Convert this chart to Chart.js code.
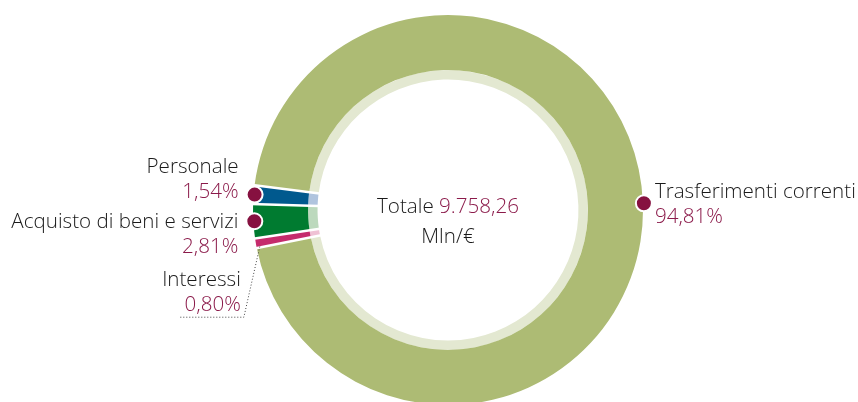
<!DOCTYPE html>
<html>
<head>
<meta charset="utf-8">
<script src="https://cdn.jsdelivr.net/npm/chart.js@4.4.1/dist/chart.umd.min.js"></script>
<style>
    html, body { margin: 0; padding: 0; background: #fff; overflow: hidden; }
    #wrap { position: relative; width: 858px; height: 420px; }
</style>
</head>
<body>
<div id="wrap"><canvas id="spese_chart"></canvas></div>
<script>
// dati (ordine in senso orario partendo da Trasferimenti)
var labels = ['Trasferimenti correnti', 'Interessi', 'Acquisto di beni e servizi', 'Personale'];
var valori = [94.81, 0.80, 2.81, 1.54];
var percentuali = ['94,81%', '0,80%', '2,81%', '1,54%'];
var totale = '9.758,26';
var unita = 'Mln/€';

var coloriPieni = ['#adbb74', '#c52b6c', '#007b30', '#00598e'];
var coloriChiari = ['#e3e8d1', '#efc1d4', '#bcd9bd', '#b0c4de'];

var FONT = '300 20.6px "Open Sans", "Noto Sans", sans-serif';
var SCURO = '#1a1a1a';
var BORDEAUX = '#8b1a4a';

// posizione delle etichette rispetto al punto medio dell'arco
var posEtichette = [
    { lato: 'dx', dy1: -5, dy2: 20, punto: true },
    { lato: 'sx', dy1: 43, dy2: 68, punto: false },
    { lato: 'sx', dy1: 7, dy2: 32, punto: true },
    { lato: 'sx', dy1: -22, dy2: 3, punto: true }
];

const etichettePlugin = {
    id: 'etichette',
    afterDatasetsDraw: function(chart) {
        const ctx = chart.ctx;
        const meta = chart.getDatasetMeta(0);
        const metaInt = chart.getDatasetMeta(1);
        ctx.save();

        // separatori bianchi tra le fette
        meta.data.forEach(function(arc, i) {
            const p = arc.getProps(['x', 'y', 'startAngle', 'outerRadius']);
            const rIn = metaInt.data[i].innerRadius;
            ctx.beginPath();
            ctx.moveTo(p.x + Math.cos(p.startAngle) * (rIn - 1), p.y + Math.sin(p.startAngle) * (rIn - 1));
            ctx.lineTo(p.x + Math.cos(p.startAngle) * (p.outerRadius + 2), p.y + Math.sin(p.startAngle) * (p.outerRadius + 2));
            ctx.lineWidth = 2.5;
            ctx.strokeStyle = '#ffffff';
            ctx.stroke();
        });

        ctx.font = FONT;
        meta.data.forEach(function(arc, i) {
            const p = arc.getProps(['x', 'y', 'startAngle', 'endAngle', 'outerRadius']);
            const mid = (p.startAngle + p.endAngle) / 2;
            const px = p.x + Math.cos(mid) * p.outerRadius;
            const py = p.y + Math.sin(mid) * p.outerRadius;
            const pos = posEtichette[i];
            let tx;
            if (pos.lato === 'dx') {
                tx = px + 12;
                ctx.textAlign = 'left';
            } else {
                tx = px - 15;
                ctx.textAlign = 'right';
            }
            ctx.textBaseline = 'alphabetic';
            ctx.fillStyle = SCURO;
            ctx.fillText(labels[i], tx, py + pos.dy1);
            ctx.fillStyle = BORDEAUX;
            ctx.fillText(percentuali[i], tx, py + pos.dy2);

            if (pos.punto) {
                ctx.beginPath();
                ctx.arc(px + 1, py, 8, 0, Math.PI * 2);
                ctx.fillStyle = '#861140';
                ctx.fill();
                ctx.lineWidth = 2;
                ctx.strokeStyle = '#ffffff';
                ctx.stroke();
            } else {
                // linea tratteggiata per Interessi
                const sx = p.x + Math.cos(mid) * (p.outerRadius - 4);
                const sy = p.y + Math.sin(mid) * (p.outerRadius - 4) + 4;
                const by = py + pos.dy2 + 6;
                ctx.beginPath();
                ctx.setLineDash([1, 2]);
                ctx.lineWidth = 1;
                ctx.strokeStyle = '#444';
                ctx.moveTo(sx, sy);
                ctx.lineTo(tx + 3, by);
                ctx.lineTo(tx - 62, by);
                ctx.stroke();
                ctx.setLineDash([]);
            }
        });

        // testo centrale
        const cx = meta.data[0].x;
        const cy = meta.data[0].y;
        const t1 = 'Totale ';
        const w1 = ctx.measureText(t1).width;
        const w2 = ctx.measureText(totale).width;
        let x0 = cx - (w1 + w2) / 2;
        ctx.textAlign = 'left';
        ctx.fillStyle = SCURO;
        ctx.fillText(t1, x0, cy + 3);
        ctx.fillStyle = BORDEAUX;
        ctx.fillText(totale, x0 + w1, cy + 3);
        ctx.textAlign = 'center';
        ctx.fillStyle = SCURO;
        ctx.fillText(unita, cx, cy + 33);
        ctx.restore();
    }
};

var chart_spese = document.getElementById('spese_chart');

let chartSpese = new Chart(chart_spese, {
    type: 'doughnut',
    data: {
        labels: labels,
        datasets: [{
            data: valori,
            backgroundColor: coloriPieni,
            borderWidth: 0,
            weight: 55
        }, {
            data: valori,
            backgroundColor: coloriChiari,
            borderWidth: 0,
            weight: 9.5
        }]
    },
    options: {
        responsive: true,
        maintainAspectRatio: false,
        animation: false,
        rotation: 277.3,
        cutout: '66.9%',
        layout: {
            padding: { top: 15, bottom: 15, left: 38, right: 0 }
        },
        plugins: {
            legend: { display: false },
            tooltip: { enabled: false }
        }
    },
    plugins: [etichettePlugin]
});
</script>
</body>
</html>
